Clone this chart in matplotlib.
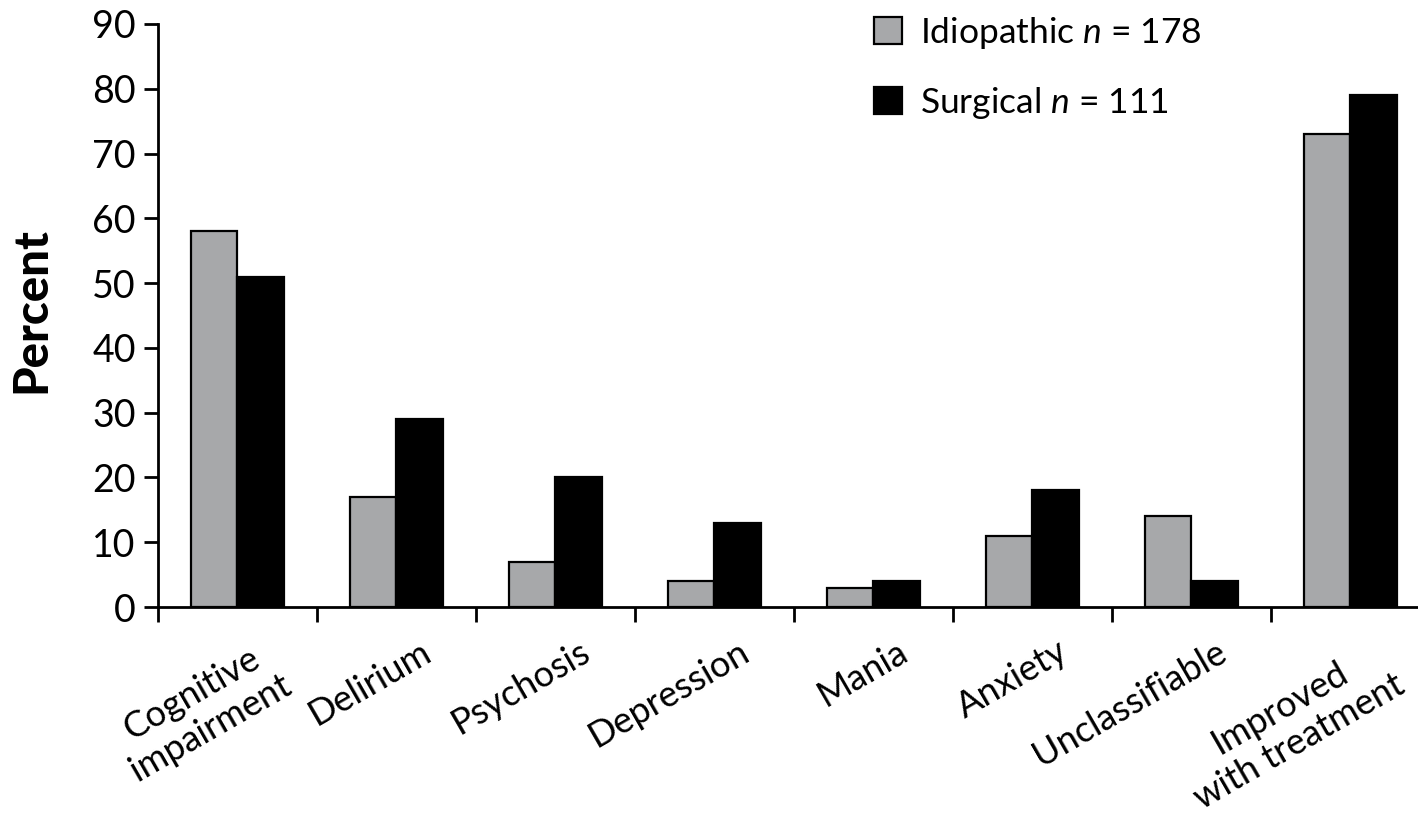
import matplotlib
matplotlib.use("Agg")
import matplotlib.pyplot as plt
import numpy as np
from matplotlib.transforms import ScaledTranslation
from matplotlib.patches import Patch

plt.rcParams['font.family'] = ['Lato', 'DejaVu Sans']
plt.rcParams['mathtext.fontset'] = 'custom'
plt.rcParams['mathtext.rm'] = 'Lato'
plt.rcParams['mathtext.it'] = 'Lato:italic'

categories = ["Cognitive\nimpairment", "Delirium", "Psychosis", "Depression",
              "Mania", "Anxiety", "Unclassifiable", "Improved\nwith treatment"]
idiopathic = [58, 17, 7, 4, 3, 11, 14, 73]
surgical = [51, 29, 20, 13, 4, 18, 4, 79]
series_labels = ["Idiopathic $n$ = 178", "Surgical $n$ = 111"]
yticks = [0, 10, 20, 30, 40, 50, 60, 70, 80, 90]

gray = "#a7a8aa"
fig = plt.figure(figsize=(14.18, 8.16), dpi=100)
ax = fig.add_axes([0.1114, 0.2561, 1 - 0.1114, 0.9706 - 0.2561])

x = np.arange(len(categories))
w = 0.29
ax.bar(x - w / 2, idiopathic, w, color=gray, edgecolor="black", linewidth=1.6)
ax.bar(x + w / 2, surgical, w, color="black", edgecolor="black", linewidth=1.6)

ax.set_ylim(0, 90)
ax.set_xlim(-0.5, 7.425)
ax.set_yticks(yticks)
ax.tick_params(axis='y', labelsize=27, length=10, width=2, direction='out', pad=6)

ax.set_xticks(x)
ax.set_xticklabels(categories, rotation=30, ha='right', va='top',
                   rotation_mode='anchor', fontsize=26, linespacing=1.2,
                   multialignment='center')
ax.tick_params(axis='x', which='major', length=0, pad=20)
ax.set_xticks(np.arange(-0.5, 7.0, 1.0), minor=True)
ax.tick_params(axis='x', which='minor', length=11, width=2, direction='out')
off = ScaledTranslation(0.24, 0, fig.dpi_scale_trans)
for lab in ax.get_xticklabels():
    lab.set_transform(lab.get_transform() + off)

for s in ['top', 'right']:
    ax.spines[s].set_visible(False)
for s in ['left', 'bottom']:
    ax.spines[s].set_linewidth(2)

fig.text(0.022, 0.62, "Percent", rotation=90, fontsize=34, fontweight='black',
         ha='center', va='center')

handles = [Patch(facecolor=gray, edgecolor='black', linewidth=1.6),
           Patch(facecolor='black', edgecolor='black', linewidth=1.6)]
ax.legend(handles, series_labels, loc='upper left', bbox_to_anchor=(0.543, 1.07),
          frameon=False, fontsize=25.5, handlelength=0.8, handleheight=0.8,
          handletextpad=0.5, labelspacing=0.95)

fig.savefig("out.png", dpi=100)
